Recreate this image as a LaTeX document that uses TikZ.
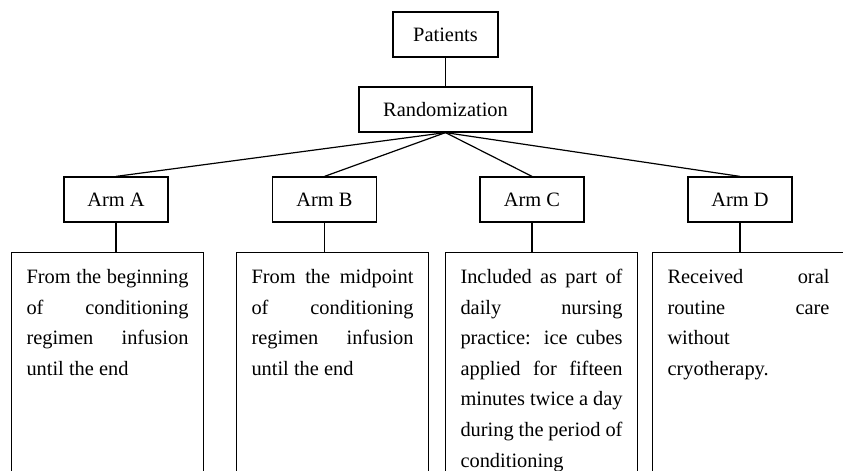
\documentclass[tikz,border=0pt]{standalone}
\usepackage{fontspec}
\setmainfont{Liberation Serif}
\usepackage{tikz}
\usetikzlibrary{positioning}

\tikzset{
  box/.style={draw, line width=0.6pt, minimum height=22.5pt, inner sep=0pt},
  armbox/.style={box, minimum width=52pt},
  descbox/.style={draw, line width=0.6pt, anchor=north, text width=81pt,
    align=justify, inner xsep=7.5pt, inner ysep=8.5pt,
    text height=7pt, text depth=120pt},
  link/.style={line width=0.6pt}
}

\begin{document}
\begin{tikzpicture}[x=0.5pt, y=-0.5pt, font=\fontsize{10.2}{15.3}\selectfont]
  \useasboundingbox (0,0) rectangle (843,471);
  \node[box, minimum width=52.5pt] (patients) at (445.5,34.5) {Patients};
  \node[box, minimum width=86.5pt] (rand) at (445.5,109.5) {Randomization};
  \draw[link] (patients) -- (rand);
  % arms
  \foreach \n/\x in {A/116, B/324.5, C/532, D/740} {
    \node[armbox] (arm\n) at (\x,199.5) {Arm \n};
    \draw[link] (rand.south) -- (arm\n.north);
  }
  % descriptions
  \node[descbox] (descA) at (107.5,252) {From the beginning\linebreak of conditioning\linebreak regimen infusion\linebreak until the end};
  \node[descbox] (descB) at (332.5,252) {From the midpoint\linebreak of conditioning\linebreak regimen infusion\linebreak until the end};
  \node[descbox] (descC) at (541.5,252) {Included as part of\linebreak daily nursing\linebreak practice: ice cubes\linebreak applied for fifteen\linebreak minutes twice a day\linebreak during the period of\linebreak conditioning};
  \node[descbox] (descD) at (748.5,252) {Received oral\linebreak routine care\linebreak without\newline cryotherapy.};
  \foreach \n in {A,B,C,D}
    \draw[link] (arm\n.south) -- (arm\n.south |- desc\n.north);
\end{tikzpicture}
\end{document}
